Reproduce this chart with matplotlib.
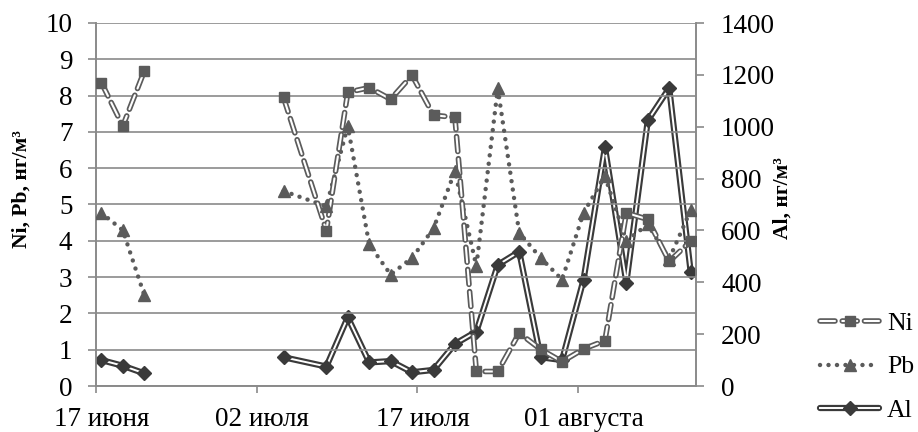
import datetime as dt
import numpy as np
import matplotlib
matplotlib.use("Agg")
import matplotlib.pyplot as plt
import matplotlib.dates as mdates
from matplotlib.lines import Line2D
from matplotlib.legend_handler import HandlerTuple

plt.rcParams['font.family'] = ['Liberation Serif', 'DejaVu Serif']

# sampling dates (2-day step, gap at end of June)
dates = ["06-17", "06-19", "06-21", "07-04", "07-08", "07-10", "07-12", "07-14",
         "07-16", "07-18", "07-20", "07-22", "07-24", "07-26", "07-28", "07-30",
         "08-01", "08-03", "08-05", "08-07", "08-09", "08-11"]
ni = [8.36, 7.16, 8.67, 7.95, 4.28, 8.09, 8.22, 7.90, 8.56, 7.46, 7.40, 0.40,
      0.40, 1.46, 1.01, 0.67, 1.02, 1.25, 4.77, 4.59, 3.43, 3.99]
pb = [4.77, 4.29, 2.51, 5.37, 4.95, 7.16, 3.90, 3.07, 3.53, 4.34, 5.92, 3.30,
      8.20, 4.22, 3.53, 2.93, 4.77, 5.78, 4.00, 4.45, 3.50, 4.84]
al = [100, 78, 49, 111, 75, 265, 91, 96, 53, 62, 162, 210,
      467, 518, 111, 100, 409, 920, 399, 1024, 1149, 441]

tick_dates = ["06-17", "07-02", "07-17", "08-01"]
tick_labels = ["17 июня", "02 июля", "17 июля", "01 августа"]

c_ni = "#5b5b5b"
c_al = "#3a3a3a"
grid_c = "#8a8a8a"
fs = 19.5


def todate(s):
    m, d = s.split("-")
    return dt.datetime(2013, int(m), int(d))


# points sit in the middle of each day (date axis, between tick marks)
x = np.array([mdates.date2num(todate(s)) + 0.5 for s in dates])

# split series where there is a gap in the sampling
breaks = np.where(np.diff(x) > 5)[0] + 1
segs = np.split(np.arange(len(x)), breaks)

fig = plt.figure(figsize=(9.18, 4.32), dpi=100)
ax = fig.add_axes([96/918, 1-386/432, 600/918, 363/432])
ax2 = ax.twinx()
ax.set_zorder(ax2.get_zorder() + 1)
ax.patch.set_visible(False)

ni = np.array(ni); pb = np.array(pb); al = np.array(al, dtype=float)

ni_outer = dict(color=c_ni, lw=4.0, dashes=(2.7, 1.3), dash_capstyle='round')
ni_inner = dict(color="white", lw=1.5, dashes=(7.2, 3.47), dash_capstyle='round')
pb_line = dict(color=c_ni, lw=3.2, dashes=(0.01, 1.9), dash_capstyle='round')
al_outer = dict(color=c_al, lw=4.5, solid_capstyle='round', solid_joinstyle='round')
al_inner = dict(color="white", lw=1.4, solid_joinstyle='round')
mk_ni = dict(ls="none", marker="s", ms=7.5, color=c_ni)
mk_pb = dict(ls="none", marker="^", ms=8.5, color=c_ni)
mk_al = dict(ls="none", marker="D", ms=7, color=c_al)

for s in segs:
    ax2.plot(x[s], al[s], **al_outer, zorder=2)
    ax2.plot(x[s], al[s], **al_inner, zorder=3)
    ax2.plot(x[s], al[s], **mk_al, zorder=4)
    ax.plot(x[s], pb[s], **pb_line, zorder=2)
    ax.plot(x[s], pb[s], **mk_pb, zorder=4)
    ax.plot(x[s], ni[s], **ni_outer, zorder=3)
    ax.plot(x[s], ni[s], **ni_inner, zorder=3)
    ax.plot(x[s], ni[s], **mk_ni, zorder=4)

ax.set_xlim(mdates.date2num(todate("06-17")), mdates.date2num(todate("08-12")))
ax.set_xticks([mdates.date2num(todate(s)) + 0.5 for s in tick_dates])
ax.set_xticks([mdates.date2num(todate(s)) for s in tick_dates], minor=True)
ax.set_xticklabels(tick_labels)
ax.set_ylim(0, 10)
ax.set_yticks(range(0, 11))
ax2.set_ylim(0, 1400)
ax2.set_yticks(range(0, 1401, 200))

ax.grid(axis="y", color=grid_c, lw=1.2)
ax.set_axisbelow(True)
for a in (ax, ax2):
    for sp in a.spines.values():
        sp.set_color(grid_c)
        sp.set_linewidth(1.2)
    a.spines["top"].set_visible(False)
    a.tick_params(colors=grid_c, labelcolor="black", labelsize=fs, width=1.2)
ax.tick_params(axis="y", length=6, pad=11)
ax2.tick_params(axis="y", length=6, pad=12)
# labels centred on the day, tick marks at day boundaries
ax.tick_params(axis="x", which="major", length=0, pad=15)
ax.tick_params(axis="x", which="minor", length=5, color=grid_c, width=1.2)

ax.set_ylabel("Ni, Pb, нг/м³", fontsize=15.5, fontweight="bold")
ax.yaxis.set_label_coords(-0.107, 0.543)
ax2.set_ylabel("Al, нг/м³", fontsize=15.5, fontweight="bold")
ax2.yaxis.set_label_coords(1.128, 0.518)

h_ni = (Line2D([], [], **ni_outer), Line2D([], [], **ni_inner), Line2D([], [], **mk_ni))
h_pb = (Line2D([], [], **pb_line), Line2D([], [], **mk_pb))
h_al = (Line2D([], [], **al_outer), Line2D([], [], **al_inner), Line2D([], [], **mk_al))
fig.legend([h_ni, h_pb, h_al], ["Ni", "Pb", "Al"],
           handler_map={tuple: HandlerTuple(ndivide=1)},
           loc="center left", bbox_to_anchor=(820/918, 1-367/432),
           frameon=False, fontsize=18.5, handlelength=2.3, handletextpad=0.3,
           labelspacing=0.8, borderpad=0, borderaxespad=0)

fig.savefig("out.png", dpi=100)
